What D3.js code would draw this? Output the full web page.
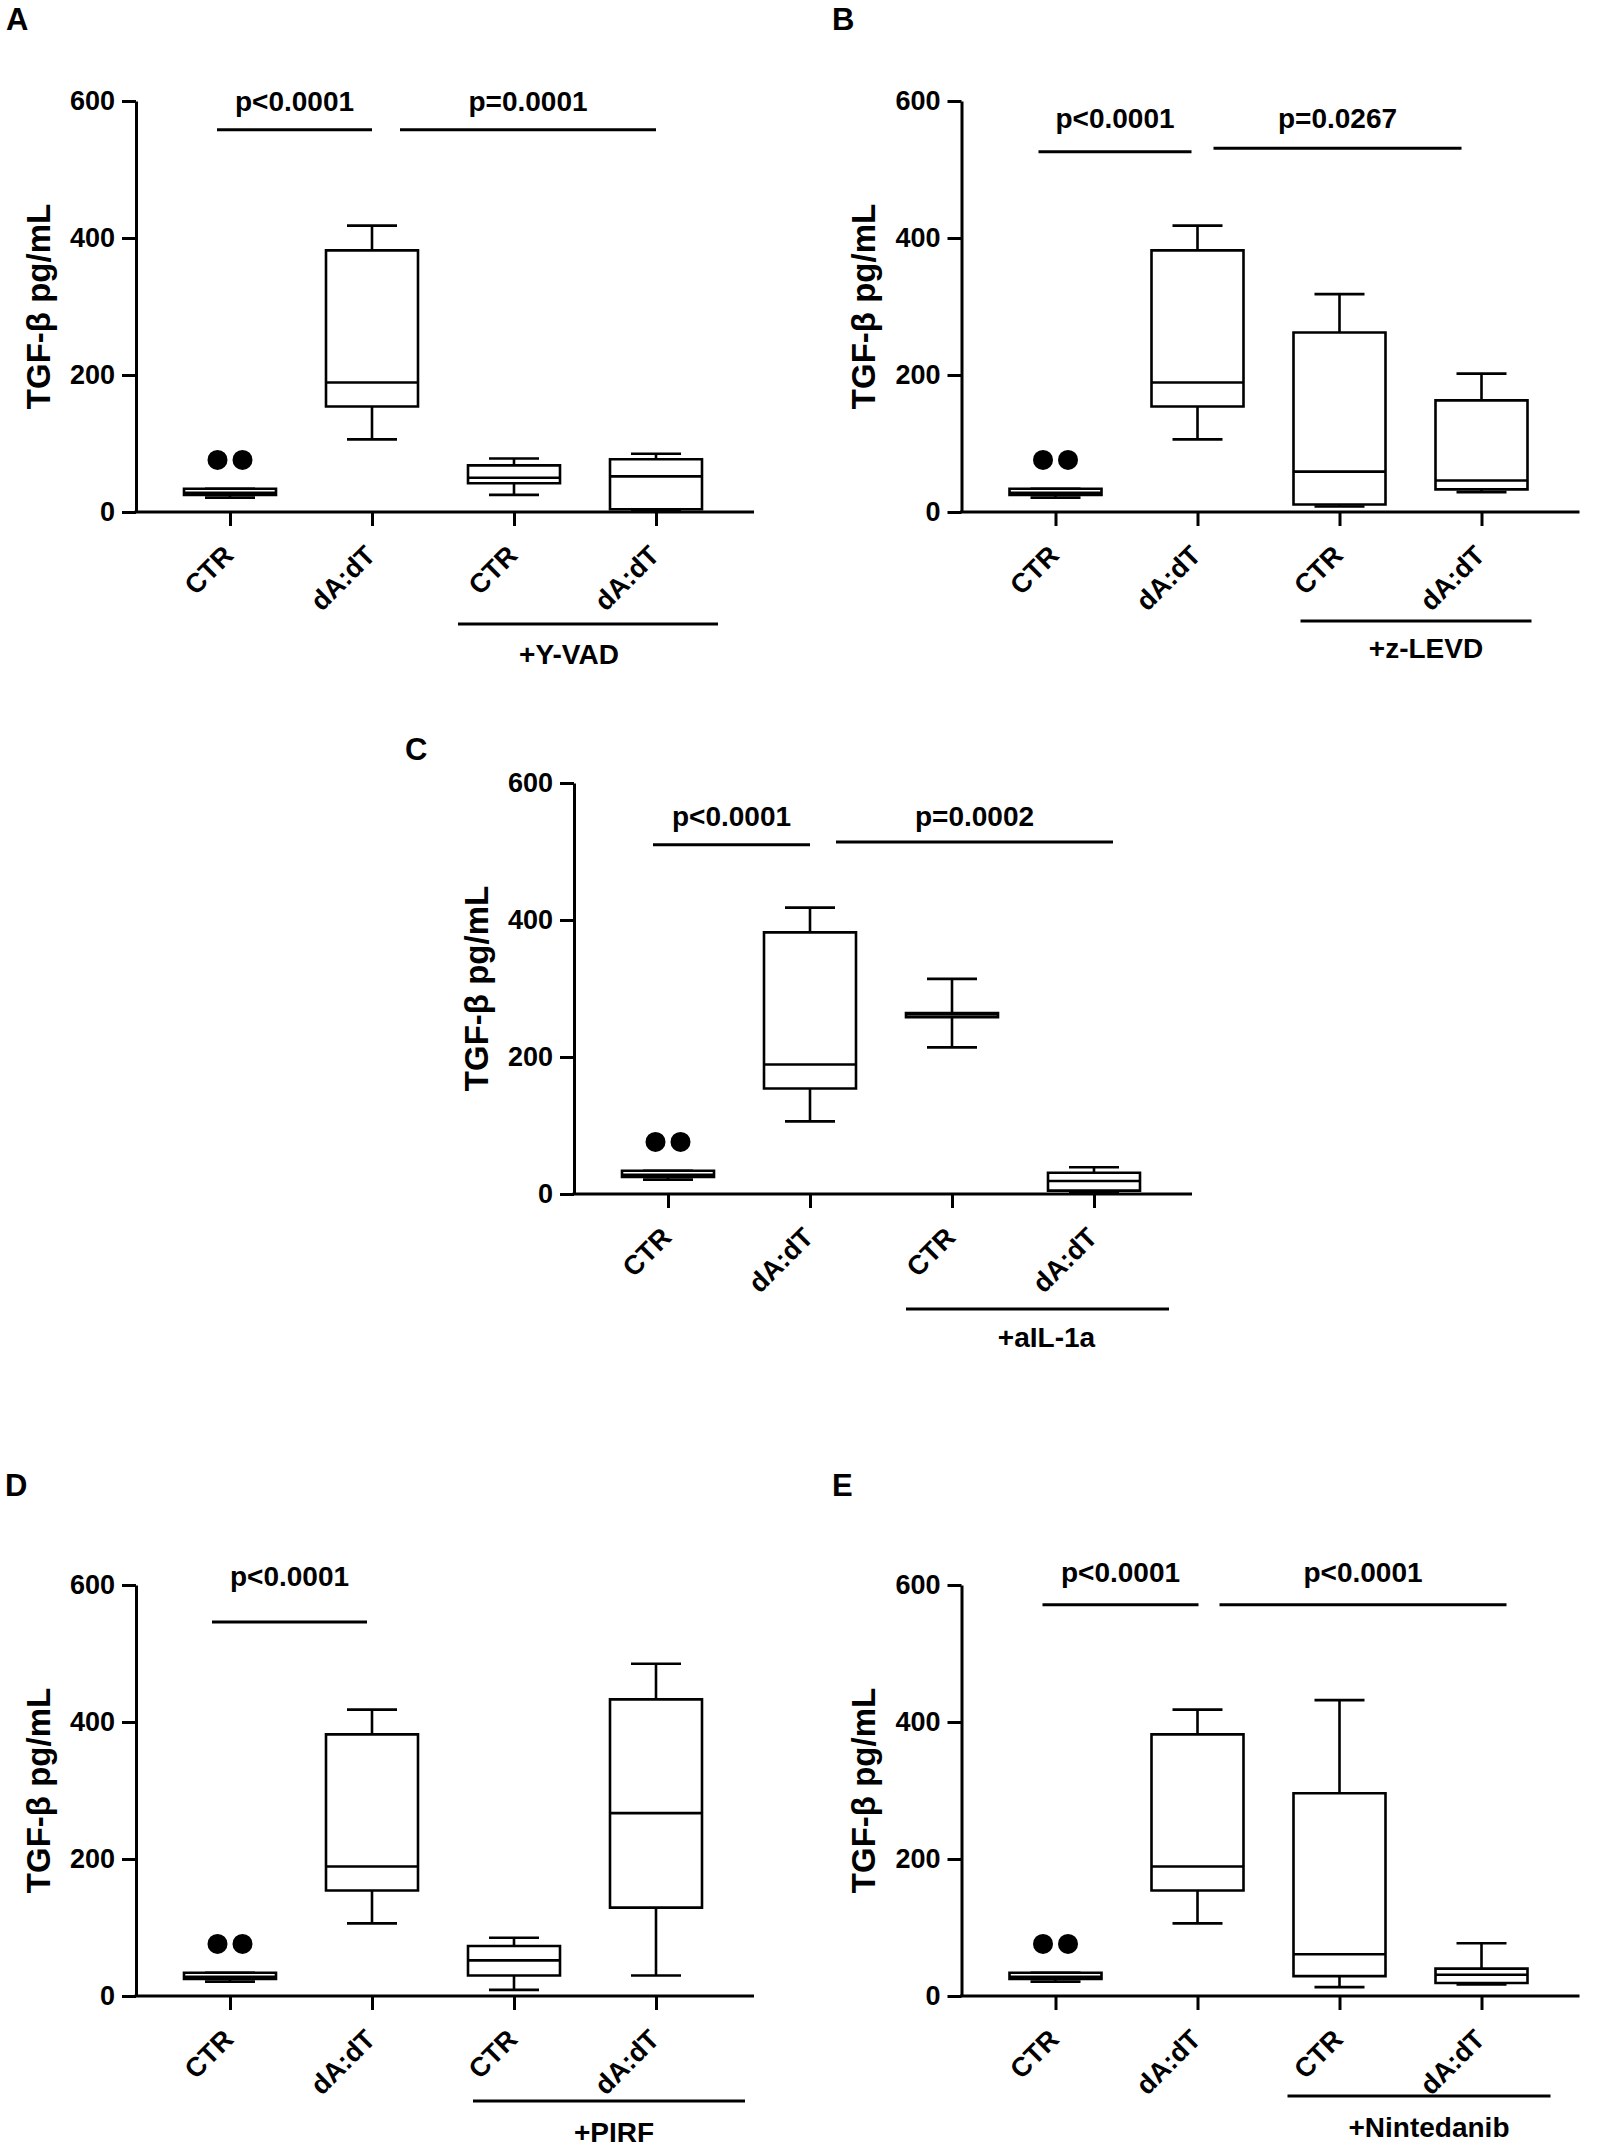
<!DOCTYPE html>
<html><head><meta charset="utf-8">
<script src="https://cdn.jsdelivr.net/npm/d3@7"></script>
<style>
body{margin:0;background:#fff}
svg text{font-family:"Liberation Sans",Arial,Helvetica,sans-serif;font-weight:bold;fill:#000}
</style>
</head><body>
<svg id="chart" width="1602" height="2155"></svg>
<script>
// ---------- DATA ----------
const categories = ["CTR", "dA:dT", "CTR", "dA:dT"];
const yTicks = [0, 200, 400, 600];
const yLabel = "TGF-β pg/mL";
const panelLetters = ["A", "B", "C", "D", "E"];
const treatments = ["+Y-VAD", "+z-LEVD", "+aIL-1a", "+PIRF", "+Nintedanib"];

// box stats per category: [min, q1, median, q3, max]
const ctrBase = [21, 25, 28, 34, 34];
const dadtBase = [106, 154, 189, 382, 418];
const boxesA = [ctrBase, dadtBase, [25, 42, 50, 68, 78], [2, 4, 52, 77, 85]];
const boxesB = [ctrBase, dadtBase, [8, 11, 59, 262, 318], [29, 33, 46, 163, 202]];
const boxesC = [ctrBase, dadtBase, [214, 258, 262, 264, 314], [3, 5, 19, 31, 39]];
const boxesD = [ctrBase, dadtBase, [9, 30, 52, 73, 85], [30, 129, 267, 433, 485]];
const boxesE = [ctrBase, dadtBase, [13, 29, 61, 296, 432], [17, 19, 31, 40, 77]];

// outlier values (CTR group)
const outliersCTR = [76, 76];

// p-value comparisons: [fromIdx, toIdx, label, lineLevel, textLevel]
const compsA = [[0, 1, "p<0.0001", 558, 600], [1, 3, "p=0.0001", 558, 600]];
const compsB = [[0, 1, "p<0.0001", 526, 575], [1, 3, "p=0.0267", 531, 575]];
const compsC = [[0, 1, "p<0.0001", 510, 552], [1, 3, "p=0.0002", 514, 552]];
const compsD = [[0, 1, "p<0.0001", 546, 613]];
const compsE = [[0, 1, "p<0.0001", 571, 619], [1, 3, "p<0.0001", 571, 619]];

// ---------- LAYOUT ----------
const panels = [
  {letter: 0, boxes: boxesA, comps: compsA, ax: 136, zero: 512, lx: 6, ly: 30,
   cOff: [[-13, 0], [28, 0]], tr: {dy: 112, x0: -56, x1: 62, tdy: 142, tdx: -19}},
  {letter: 1, boxes: boxesB, comps: compsB, ax: 961.5, zero: 512, lx: 832, ly: 30,
   cOff: [[-17, -6], [16, -20]], tr: {dy: 109, x0: -39, x1: 50, tdy: 136, tdx: 10}},
  {letter: 2, boxes: boxesC, comps: compsC, ax: 574, zero: 1194, lx: 405, ly: 760,
   cOff: [[-15, 0], [26, 19]], tr: {dy: 115, x0: -46, x1: 75, tdy: 143, tdx: 9}},
  {letter: 3, boxes: boxesD, comps: compsD, ax: 136, zero: 1996, lx: 5, ly: 1496,
   cOff: [[-18, -5]], tr: {dy: 105, x0: -41, x1: 89, tdy: 136, tdx: 5}},
  {letter: 4, boxes: boxesE, comps: compsE, ax: 961.5, zero: 1996, lx: 832, ly: 1496,
   cOff: [[-13, 1], [22, 25]], tr: {dy: 100, x0: -52, x1: 69, tdy: 131, tdx: 10}}
];

const svg = d3.select("#chart");
svg.append("rect").attr("width", 1602).attr("height", 2155).attr("fill", "#fff");

const SW = 2.6;
const boxHalf = 46, capHalf = 25;

panels.forEach(p => {
  const g = svg.append("g");
  const y = d3.scaleLinear().domain([0, 600]).range([p.zero, p.zero - 411]);
  const x = d3.scalePoint().domain(d3.range(categories.length))
              .range([p.ax + 94, p.ax + 94 + 426]);

  // panel letter
  g.append("text").attr("x", p.lx).attr("y", p.ly)
    .style("font-size", "31px").text(panelLetters[p.letter]);

  // y axis
  const yAxis = d3.axisLeft(y).tickValues(yTicks).tickSize(14).tickSizeOuter(0).tickPadding(7);
  const ya = g.append("g").attr("transform", `translate(${p.ax},0)`).call(yAxis);
  ya.selectAll("path,line").attr("stroke", "#000").attr("stroke-width", 3);
  ya.selectAll("text").style("font-size", "27px").attr("fill", "#000");

  // x axis
  const xAxis = d3.axisBottom(x).tickSize(14).tickSizeOuter(0).tickFormat("");
  const xa = g.append("g").attr("transform", `translate(0,${p.zero})`).call(xAxis);
  xa.select(".domain").remove();
  xa.selectAll("line").attr("stroke", "#000").attr("stroke-width", 3);
  g.append("line").attr("x1", p.ax - 1.5).attr("x2", p.ax + 618)
    .attr("y1", p.zero).attr("y2", p.zero).attr("stroke", "#000").attr("stroke-width", 3);

  // category labels
  categories.forEach((c, i) => {
    g.append("text")
      .attr("transform", `translate(${x(i) + 5},${p.zero + 45}) rotate(-45)`)
      .attr("text-anchor", "end")
      .style("font-size", "27px").text(c);
  });

  // y label
  g.append("text")
    .attr("transform", `translate(${p.ax - 98},${y(300)}) rotate(-90)`)
    .attr("text-anchor", "middle").attr("dy", "0.35em")
    .style("font-size", "33px").text(yLabel);

  // boxes
  p.boxes.forEach((s, i) => {
    const cx = x(i);
    const bg = g.append("g").attr("stroke", "#000").attr("stroke-width", SW).attr("fill", "none");
    bg.append("line").attr("x1", cx).attr("x2", cx).attr("y1", y(s[0])).attr("y2", y(s[1]));
    bg.append("line").attr("x1", cx).attr("x2", cx).attr("y1", y(s[3])).attr("y2", y(s[4]));
    bg.append("line").attr("x1", cx - capHalf).attr("x2", cx + capHalf).attr("y1", y(s[0])).attr("y2", y(s[0]));
    bg.append("line").attr("x1", cx - capHalf).attr("x2", cx + capHalf).attr("y1", y(s[4])).attr("y2", y(s[4]));
    bg.append("path")
      .attr("d", `M${cx - boxHalf},${y(s[3])}H${cx + boxHalf}V${y(s[1])}H${cx - boxHalf}Z`)
      .attr("fill", "#fff");
    bg.append("line").attr("x1", cx - boxHalf).attr("x2", cx + boxHalf).attr("y1", y(s[2])).attr("y2", y(s[2]));
  });

  // outliers
  outliersCTR.forEach((v, k) => {
    g.append("circle").attr("cx", x(0) + (k === 0 ? -12.5 : 12.5)).attr("cy", y(v))
      .attr("r", 10).attr("fill", "#000");
  });

  // comparisons
  p.comps.forEach((c, k) => {
    const x0 = x(c[0]) + p.cOff[k][0], x1 = x(c[1]) + p.cOff[k][1];
    g.append("line").attr("x1", x0).attr("x2", x1).attr("y1", y(c[3])).attr("y2", y(c[3]))
      .attr("stroke", "#000").attr("stroke-width", 3);
    g.append("text").attr("x", (x0 + x1) / 2).attr("y", y(c[4])).attr("dy", "0.35em")
      .attr("text-anchor", "middle").style("font-size", "28px").text(c[2]);
  });

  // treatment bracket
  const t0 = x(2) + p.tr.x0, t1 = x(3) + p.tr.x1;
  g.append("line").attr("x1", t0).attr("x2", t1)
    .attr("y1", p.zero + p.tr.dy).attr("y2", p.zero + p.tr.dy)
    .attr("stroke", "#000").attr("stroke-width", 3);
  g.append("text").attr("x", (t0 + t1) / 2 + p.tr.tdx).attr("y", p.zero + p.tr.tdy)
    .attr("dy", "0.35em").attr("text-anchor", "middle")
    .style("font-size", "28px").text(treatments[p.letter]);
});
</script>
</body></html>
